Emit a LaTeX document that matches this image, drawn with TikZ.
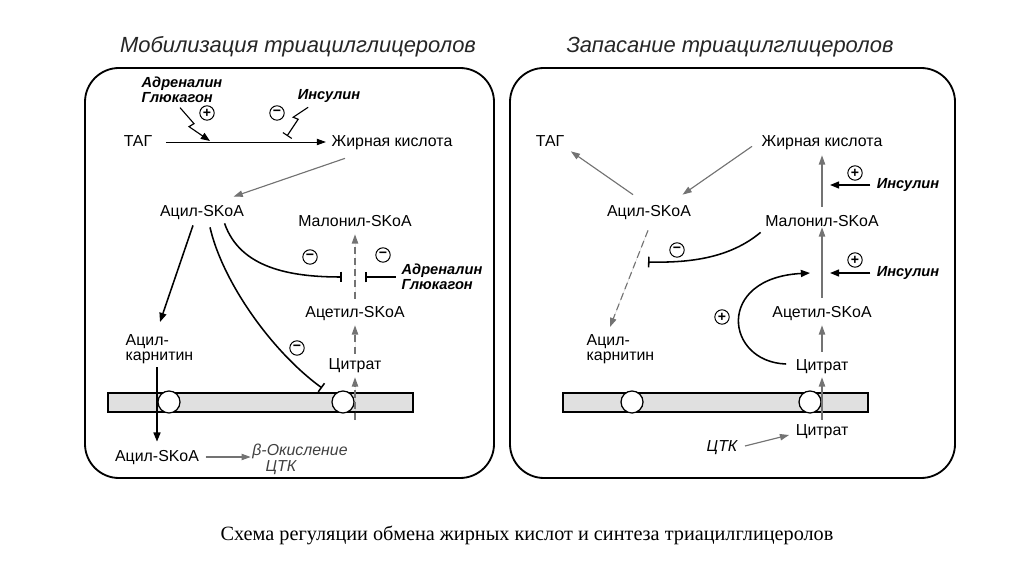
\documentclass[tikz,border=0pt]{standalone}
\usepackage{fontspec}
\setmainfont{Liberation Serif}
\setsansfont{Liberation Sans}
\usetikzlibrary{arrows.meta,calc}
\tikzset{
  lbl/.style={font=\sffamily\fontsize{11.3}{10.8}\selectfont, inner sep=1pt, text height=8pt, text depth=1.5pt},
  twoline/.style={font=\sffamily\fontsize{11.3}{10.8}\selectfont, inner sep=1pt, align=left, anchor=north west},
  hormone/.style={font=\sffamily\bfseries\itshape\fontsize{10.4}{10.8}\selectfont, inner sep=1pt, align=left},
  ttl/.style={font=\sffamily\itshape\fontsize{15.6}{17}\selectfont, text=black!85},
  sign/.style={circle, draw, line width=0.7pt, minimum size=0.36cm, inner sep=0pt, font=\sffamily\bfseries\fontsize{10}{10}\selectfont},
  panel/.style={draw, line width=1.3pt, rounded corners=0.85cm},
  membrane/.style={draw, fill=black!12, line width=0.9pt},
  pore/.style={circle, draw, fill=white, line width=0.9pt, minimum size=0.55cm, inner sep=0pt},
  blk/.style={-{Triangle[length=6.5pt,width=5pt]}, line width=1.1pt},
  thn/.style={-{Triangle[length=6.5pt,width=4.5pt]}, line width=0.7pt},
  gry/.style={-{Triangle[length=6.5pt,width=4.5pt]}, draw=black!55, fill=black!55, line width=0.8pt},
  dsh/.style={gry, dash pattern=on 5pt off 3pt},
  inh/.style={-{Bar[width=7.5pt]}, line width=1.1pt}
}
\begin{document}
\begin{tikzpicture}[x=0.025cm, y=-0.025cm]
\useasboundingbox (0,0) rectangle (1024,576);

% titles and caption
\node[ttl] (ttlL) at (298,47) {Мобилизация триацилглицеролов};
\node[ttl] (ttlR) at (730,47) {Запасание триацилглицеролов};
\node[font=\rmfamily\fontsize{14.4}{16}\selectfont] (caption) at (527,535) {Схема регуляции обмена жирных кислот и синтеза триацилглицеролов};

% panels
\draw[panel] (85,68) rectangle (494,478);
\draw[panel] (510,68) rectangle (955,478);

% membranes
\draw[membrane] (108,393) rectangle (413,412);
\draw[membrane] (563,393) rectangle (868,412);
\node[pore] (poreL1) at (169,402) {};
\node[pore] (poreL2) at (343,402) {};
\node[pore] (poreR1) at (632,402) {};
\node[pore] (poreR2) at (810,402) {};

%%% left panel: mobilisation
\node[lbl] (tagL) at (138,142) {ТАГ};
\node[lbl] (fatL) at (392,142) {Жирная кислота};
\node[lbl] (acylL) at (202,212) {Ацил-SKoA};
\node[lbl] (malL) at (355,222) {Малонил-SKoA};
\node[lbl] (acetL) at (355,313) {Ацетил-SKoA};
\node[lbl] (citL) at (355,365) {Цитрат};
\node[twoline] (carnL) at (124,333) {Ацил-\\карнитин};
\node[lbl] (acyl2L) at (157,457) {Ацил-SKoA};
\node[lbl, font=\sffamily\itshape\fontsize{11.3}{10.8}\selectfont, text=black!75] (betaL) at (300,451) {β-Окисление};
\node[lbl, font=\sffamily\itshape\fontsize{11.3}{10.8}\selectfont, text=black!75] (tcaL) at (281,467) {ЦТК};
\node[hormone] (adrenL) at (182,90) {Адреналин\\Глюкагон};
\node[hormone] (insL) at (329,96) {Инсулин};
\node[hormone] (adren2L) at (442,277) {Адреналин\\Глюкагон};

\node[sign] (plusL) at (207,113) {+};
\node[sign] (minusL1) at (277,113) {−};
\node[sign] (minusL2) at (310,257) {−};
\node[sign] (minusL3) at (383,255) {−};
\node[sign] (minusL4) at (297,348) {−};

\coordinate (actL) at (210,141);
\coordinate (blkL) at (287,136);
\coordinate (barL1) at (342,277);
\coordinate (barL2) at (365,277);
\coordinate (barL3) at (322,388);
\coordinate (citinL) at (355,420);

\draw[thn, shorten <=0.3cm, shorten >=0.1cm] (tagL) -- (fatL);
\draw[blk, line width=0.8pt] ($(adrenL.south)+(-2,3)$) -- ++(14,16) -- ++(-5,3) -- (actL);
\draw[inh, line width=0.8pt] ($(insL.south west)+(12,3)$) -- ++(-15,10) -- ++(5,2) -- (blkL);
\draw[gry] ($(fatL.south west)+(15,8)$) -- ($(acylL.north east)+(-12,-7)$);
\draw[blk] ($(acylL.south)+(-9,5)$) -- ($(carnL.north west)+(36,-11)$);
\draw[blk] ($(carnL.north west)+(33,34)$) -- ($(acyl2L.north)+(0,-7)$);
\draw[gry] ($(acyl2L.east)+(5,0)$) -- ($(betaL.west)+(0,6)$);
\draw[dsh] (citinL) -- ($(citL.south)+(0,4)$);
\draw[dsh] ($(citL.north)+(0,-3)$) -- ($(acetL.south)+(0,4)$);
\draw[dsh] ($(acetL.north)+(0,-6)$) -- ($(malL.south)+(0,4)$);
\draw[inh] ($(acylL.south east)+(-21,3)$) .. controls (240,268) and (290,277) .. (barL1);
\draw[inh] ($(adren2L.west)+(-4,0)$) -- (barL2);
\draw[inh] ($(acylL.south)+(8,7)$) .. controls (222,280) and (270,350) .. (barL3);

%%% right panel: storage
\node[lbl] (tagR) at (550,142) {ТАГ};
\node[lbl] (fatR) at (822,142) {Жирная кислота};
\node[lbl] (acylR) at (649,212) {Ацил-SKoA};
\node[lbl] (malR) at (822,222) {Малонил-SKoA};
\node[lbl] (acetR) at (822,313) {Ацетил-SKoA};
\node[lbl] (citR) at (822,366) {Цитрат};
\node[lbl] (cit2R) at (822,431) {Цитрат};
\node[twoline] (carnR) at (585,333) {Ацил-\\карнитин};
\node[lbl, font=\sffamily\itshape\fontsize{11.3}{10.8}\selectfont] (tcaR) at (722,447) {ЦТК};
\node[hormone] (insR1) at (908,185) {Инсулин};
\node[hormone] (insR2) at (908,273) {Инсулин};

\node[sign] (plusR1) at (855,173) {+};
\node[sign] (plusR2) at (855,260) {+};
\node[sign] (plusR3) at (722,317) {+};
\node[sign] (minusR) at (677,250) {−};

\coordinate (pinR1) at (830,185);
\coordinate (pinR2) at (830,273);
\coordinate (pinR3) at (810,273);
\coordinate (barR) at (648,262);

\draw[gry] ($(acylR.north)+(-16,-9)$) -- ($(tagR.south east)+(5,1)$);
\draw[gry] ($(fatR.south west)+(-8,-4)$) -- ($(acylR.north east)+(-10,-9)$);
\draw[gry] ($(malR.north)+(0,-7)$) -- ($(fatR.south)+(0,5)$);
\draw[gry] ($(acetR.north)+(0,-7)$) -- ($(malR.south)+(0,-3)$);
\draw[gry] ($(citR.north)+(0,-6)$) -- ($(acetR.south)+(0,4)$);
\draw[gry] ($(cit2R.north)+(0,-3)$) -- ($(citR.south)+(0,3)$);
\draw[gry] ($(tcaR.east)+(6,-1)$) -- ($(cit2R.west)+(-5,4)$);
\draw[blk, shorten <=3.5pt] (insR1.west) -- (pinR1);
\draw[blk, shorten <=3.5pt] (insR2.west) -- (pinR2);
\draw[blk] ($(citR.west)+(-8,-2)$) .. controls (725,362) and (715,278) .. (pinR3);
\draw[dsh] ($(acylR.south)+(-1,10)$) -- ($(carnR.north west)+(25,-6)$);
\draw[inh] ($(malR.south west)+(-3,2)$) .. controls (730,258) and (690,263) .. (barR);
\end{tikzpicture}
\end{document}
